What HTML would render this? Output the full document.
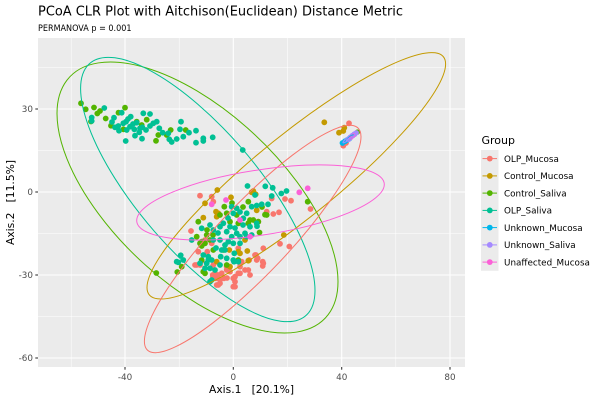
<!DOCTYPE html>
<html><head><meta charset="utf-8"><style>
html,body{margin:0;padding:0;background:#fff;}
svg{display:block;font-family:"DejaVu Sans","Liberation Sans",sans-serif;}
</style></head><body>
<svg width="600" height="400" viewBox="0 0 600 400" xmlns="http://www.w3.org/2000/svg">
<defs><clipPath id="pc"><rect x="38" y="38" width="427" height="329"/></clipPath></defs>
<rect x="0" y="0" width="600" height="400" fill="#fff"/>
<rect x="38" y="38" width="427" height="329" fill="#EBEBEB"/>
<g stroke="#fff" stroke-width="0.55">
<line x1="71.2" y1="38" x2="71.2" y2="367"/><line x1="179.2" y1="38" x2="179.2" y2="367"/><line x1="287.5" y1="38" x2="287.5" y2="367"/><line x1="395.8" y1="38" x2="395.8" y2="367"/>
<line x1="38" y1="67.5" x2="465" y2="67.5"/><line x1="38" y1="150.5" x2="465" y2="150.5"/><line x1="38" y1="233.5" x2="465" y2="233.5"/><line x1="38" y1="316.5" x2="465" y2="316.5"/>
</g>
<g stroke="#fff" stroke-width="1.1">
<line x1="125" y1="38" x2="125" y2="367"/><line x1="233.3" y1="38" x2="233.3" y2="367"/><line x1="341.7" y1="38" x2="341.7" y2="367"/><line x1="450" y1="38" x2="450" y2="367"/>
<line x1="38" y1="109" x2="465" y2="109"/><line x1="38" y1="192" x2="465" y2="192"/><line x1="38" y1="275" x2="465" y2="275"/><line x1="38" y1="358" x2="465" y2="358"/>
</g>
<g clip-path="url(#pc)">
<g fill="#F8766D">
<circle cx="200" cy="195.7" r="2.9"/><circle cx="211.7" cy="196.7" r="2.9"/><circle cx="213.3" cy="201.7" r="2.9"/><circle cx="191" cy="231" r="2.9"/><circle cx="198.3" cy="251.7" r="2.9"/><circle cx="195" cy="265" r="2.9"/><circle cx="212.7" cy="275" r="2.9"/><circle cx="216" cy="278.3" r="2.9"/><circle cx="218.3" cy="285" r="2.9"/><circle cx="224" cy="278.3" r="2.9"/><circle cx="235" cy="286.7" r="2.9"/><circle cx="235" cy="276.7" r="2.9"/><circle cx="240" cy="273.3" r="2.9"/><circle cx="245" cy="270" r="2.9"/><circle cx="248.3" cy="270" r="2.9"/><circle cx="255" cy="255" r="2.9"/><circle cx="256.7" cy="260" r="2.9"/><circle cx="263.3" cy="248.3" r="2.9"/><circle cx="263.3" cy="263.3" r="2.9"/><circle cx="262.7" cy="266" r="2.9"/><circle cx="249.3" cy="260" r="2.9"/><circle cx="241.7" cy="261.7" r="2.9"/><circle cx="226.7" cy="270" r="2.9"/><circle cx="221.7" cy="273.3" r="2.9"/><circle cx="266.7" cy="211.7" r="2.9"/><circle cx="273.3" cy="214" r="2.9"/><circle cx="279" cy="212.3" r="2.9"/><circle cx="271.7" cy="198.5" r="2.9"/><circle cx="285" cy="199" r="2.9"/><circle cx="291" cy="200.7" r="2.9"/><circle cx="310.5" cy="209" r="2.9"/><circle cx="280" cy="243.8" r="2.9"/><circle cx="289.3" cy="246.5" r="2.9"/><circle cx="238.3" cy="248.3" r="2.9"/><circle cx="211.7" cy="243.3" r="2.9"/><circle cx="207.3" cy="251.7" r="2.9"/><circle cx="216.7" cy="285" r="2.9"/><circle cx="233.3" cy="278.3" r="2.9"/><circle cx="200" cy="265" r="2.9"/><circle cx="213" cy="276.7" r="2.9"/><circle cx="220" cy="280" r="2.9"/><circle cx="196.7" cy="265" r="2.9"/><circle cx="213.3" cy="265" r="2.9"/><circle cx="215" cy="273.3" r="2.9"/><circle cx="218.3" cy="275" r="2.9"/><circle cx="220" cy="283.3" r="2.9"/><circle cx="226.7" cy="266.7" r="2.9"/><circle cx="230" cy="271.7" r="2.9"/><circle cx="238.3" cy="273.3" r="2.9"/><circle cx="240" cy="266.7" r="2.9"/><circle cx="233.3" cy="286.7" r="2.9"/><circle cx="235" cy="281.7" r="2.9"/><circle cx="250" cy="275" r="2.9"/><circle cx="256" cy="255" r="2.9"/><circle cx="262.7" cy="261.7" r="2.9"/><circle cx="257.7" cy="258.3" r="2.9"/><circle cx="258.3" cy="221.7" r="2.9"/><circle cx="201.7" cy="260.7" r="2.9"/><circle cx="205" cy="240" r="2.9"/><circle cx="227" cy="278" r="2.9"/><circle cx="349" cy="123.3" r="2.9"/><circle cx="343.3" cy="145.7" r="2.9"/><circle cx="346" cy="143" r="2.9"/>
</g>
<g fill="#C49A00">
<circle cx="217.3" cy="190" r="2.9"/><circle cx="205" cy="203.3" r="2.9"/><circle cx="216" cy="211.7" r="2.9"/><circle cx="216.7" cy="216.7" r="2.9"/><circle cx="231" cy="197.3" r="2.9"/><circle cx="251.7" cy="192.3" r="2.9"/><circle cx="255.7" cy="194.3" r="2.9"/><circle cx="203.3" cy="217.7" r="2.9"/><circle cx="256.7" cy="210.3" r="2.9"/><circle cx="283.8" cy="235" r="2.9"/><circle cx="247.3" cy="251" r="2.9"/><circle cx="238.3" cy="251.7" r="2.9"/><circle cx="245" cy="240" r="2.9"/><circle cx="230" cy="266.7" r="2.9"/><circle cx="216.7" cy="261.7" r="2.9"/><circle cx="218.3" cy="213.3" r="2.9"/><circle cx="324.3" cy="122.3" r="2.9"/><circle cx="344.3" cy="127.7" r="2.9"/><circle cx="343.3" cy="131" r="2.9"/><circle cx="339" cy="132.7" r="2.9"/><circle cx="229.3" cy="250" r="2.9"/><circle cx="240" cy="253.3" r="2.9"/><circle cx="248.3" cy="260.7" r="2.9"/><circle cx="253.3" cy="191" r="2.9"/>
</g>
<g fill="#53B400">
<circle cx="81" cy="103.3" r="2.9"/><circle cx="85.7" cy="109.3" r="2.9"/><circle cx="94" cy="107.5" r="2.9"/><circle cx="97.3" cy="113.5" r="2.9"/><circle cx="100" cy="111" r="2.9"/><circle cx="91" cy="121.5" r="2.9"/><circle cx="105.7" cy="118.5" r="2.9"/><circle cx="125" cy="107.7" r="2.9"/><circle cx="118.5" cy="112.7" r="2.9"/><circle cx="111" cy="125.7" r="2.9"/><circle cx="123.5" cy="129.3" r="2.9"/><circle cx="136.7" cy="121.7" r="2.9"/><circle cx="141.7" cy="125" r="2.9"/><circle cx="146.7" cy="119.7" r="2.9"/><circle cx="158.3" cy="135" r="2.9"/><circle cx="156" cy="140.8" r="2.9"/><circle cx="166.7" cy="135" r="2.9"/><circle cx="170.7" cy="130" r="2.9"/><circle cx="185.7" cy="130" r="2.9"/>
<circle cx="198.3" cy="221.7" r="2.9"/><circle cx="196.7" cy="236.7" r="2.9"/><circle cx="201.7" cy="241.7" r="2.9"/><circle cx="205" cy="243.3" r="2.9"/><circle cx="224.3" cy="206.7" r="2.9"/><circle cx="226.7" cy="213.3" r="2.9"/><circle cx="230" cy="221.7" r="2.9"/><circle cx="236.7" cy="215" r="2.9"/><circle cx="238.3" cy="223.3" r="2.9"/><circle cx="248.3" cy="201.7" r="2.9"/><circle cx="250" cy="220" r="2.9"/><circle cx="253.3" cy="220" r="2.9"/><circle cx="258.3" cy="221.7" r="2.9"/><circle cx="259.5" cy="232.5" r="2.9"/><circle cx="265" cy="214.7" r="2.9"/><circle cx="307.7" cy="201.7" r="2.9"/><circle cx="205" cy="273.3" r="2.9"/><circle cx="201.7" cy="260" r="2.9"/><circle cx="181.7" cy="266.7" r="2.9"/><circle cx="177.3" cy="272" r="2.9"/><circle cx="156.3" cy="273" r="2.9"/><circle cx="238.3" cy="260" r="2.9"/><circle cx="223.3" cy="250" r="2.9"/><circle cx="210" cy="240" r="2.9"/><circle cx="200" cy="243.3" r="2.9"/><circle cx="203.3" cy="241.7" r="2.9"/><circle cx="206.7" cy="235" r="2.9"/><circle cx="248.3" cy="223.3" r="2.9"/><circle cx="266.7" cy="215" r="2.9"/><circle cx="213.3" cy="250" r="2.9"/><circle cx="203.3" cy="271.7" r="2.9"/><circle cx="201.7" cy="246" r="2.9"/><circle cx="226.7" cy="265" r="2.9"/><circle cx="220" cy="215" r="2.9"/><circle cx="243" cy="207" r="2.9"/><circle cx="232" cy="203" r="2.9"/><circle cx="213" cy="235" r="2.9"/><circle cx="207" cy="230" r="2.9"/><circle cx="262" cy="207" r="2.9"/><circle cx="357.5" cy="132" r="2.6"/>
</g>
<g fill="#00C094">
<circle cx="104.3" cy="108" r="2.9"/><circle cx="91.7" cy="117.5" r="2.9"/><circle cx="114" cy="117.7" r="2.9"/><circle cx="121.7" cy="112.7" r="2.9"/><circle cx="130.7" cy="116.7" r="2.9"/><circle cx="126" cy="121.7" r="2.9"/><circle cx="115" cy="127.3" r="2.9"/><circle cx="119" cy="130.7" r="2.9"/><circle cx="126.7" cy="130" r="2.9"/><circle cx="125.7" cy="141" r="2.9"/><circle cx="134.3" cy="129.3" r="2.9"/><circle cx="135" cy="135.7" r="2.9"/><circle cx="139.3" cy="132.3" r="2.9"/><circle cx="143.3" cy="113.3" r="2.9"/><circle cx="150" cy="114" r="2.9"/><circle cx="142.3" cy="127.3" r="2.9"/><circle cx="142" cy="138.7" r="2.9"/><circle cx="150" cy="126" r="2.9"/><circle cx="153.3" cy="123.3" r="2.9"/><circle cx="156.7" cy="121.7" r="2.9"/><circle cx="159.3" cy="128.3" r="2.9"/><circle cx="162.7" cy="132.7" r="2.9"/><circle cx="169.3" cy="139.3" r="2.9"/><circle cx="171.7" cy="142" r="2.9"/><circle cx="176.7" cy="139" r="2.9"/><circle cx="181" cy="121.7" r="2.9"/><circle cx="180" cy="129.3" r="2.9"/><circle cx="183.3" cy="136.7" r="2.9"/><circle cx="189" cy="132.7" r="2.9"/><circle cx="196" cy="130.7" r="2.9"/><circle cx="196" cy="142.7" r="2.9"/><circle cx="203.3" cy="138.3" r="2.9"/><circle cx="203.3" cy="141" r="2.9"/><circle cx="212.7" cy="137.3" r="2.9"/><circle cx="242.7" cy="150" r="2.9"/><circle cx="136.7" cy="122.7" r="2.9"/><circle cx="130" cy="126.7" r="2.9"/><circle cx="123.3" cy="123.3" r="2.9"/><circle cx="118.3" cy="126" r="2.9"/><circle cx="140" cy="128.3" r="2.9"/><circle cx="168.3" cy="133.3" r="2.9"/><circle cx="91.7" cy="121" r="2.9"/><circle cx="128" cy="119" r="2.9"/><circle cx="112" cy="122" r="2.9"/><circle cx="133" cy="124" r="2.9"/><circle cx="146" cy="130" r="2.9"/>
<circle cx="247.5" cy="186" r="2.9"/><circle cx="265.3" cy="186.3" r="2.9"/><circle cx="272.7" cy="187.8" r="2.9"/><circle cx="281.3" cy="193.5" r="2.9"/><circle cx="286.5" cy="191" r="2.9"/><circle cx="271.7" cy="196" r="2.9"/><circle cx="255" cy="195" r="2.9"/><circle cx="261.7" cy="204.3" r="2.9"/><circle cx="268" cy="204.3" r="2.9"/><circle cx="256.7" cy="205.5" r="2.9"/><circle cx="251.7" cy="206.7" r="2.9"/><circle cx="246.7" cy="213.3" r="2.9"/><circle cx="243.3" cy="218.3" r="2.9"/><circle cx="250" cy="226.7" r="2.9"/><circle cx="257" cy="226.2" r="2.9"/><circle cx="231.7" cy="206.7" r="2.9"/><circle cx="236.7" cy="208.3" r="2.9"/><circle cx="233.3" cy="213.3" r="2.9"/><circle cx="223.3" cy="223.3" r="2.9"/><circle cx="220" cy="226.7" r="2.9"/><circle cx="230" cy="226.7" r="2.9"/><circle cx="226.7" cy="231.7" r="2.9"/><circle cx="213.3" cy="230" r="2.9"/><circle cx="210" cy="225" r="2.9"/><circle cx="201.7" cy="228.3" r="2.9"/><circle cx="231.7" cy="236.7" r="2.9"/><circle cx="236.7" cy="233.3" r="2.9"/><circle cx="245" cy="233.3" r="2.9"/><circle cx="228.3" cy="241.7" r="2.9"/><circle cx="233.3" cy="243.3" r="2.9"/><circle cx="225" cy="250" r="2.9"/><circle cx="220" cy="240" r="2.9"/><circle cx="213.3" cy="240" r="2.9"/><circle cx="191.7" cy="240" r="2.9"/><circle cx="240" cy="236.7" r="2.9"/><circle cx="246.7" cy="236.7" r="2.9"/><circle cx="251.7" cy="235" r="2.9"/><circle cx="200" cy="263.3" r="2.9"/><circle cx="205" cy="268.3" r="2.9"/><circle cx="211.7" cy="260" r="2.9"/><circle cx="208.3" cy="260" r="2.9"/><circle cx="210" cy="268.3" r="2.9"/><circle cx="220.7" cy="256.7" r="2.9"/><circle cx="226.7" cy="258.3" r="2.9"/><circle cx="234" cy="261.7" r="2.9"/><circle cx="176.7" cy="261.7" r="2.9"/><circle cx="180.7" cy="255.3" r="2.9"/><circle cx="211.7" cy="280" r="2.9"/><circle cx="220" cy="265" r="2.9"/><circle cx="215" cy="270" r="2.9"/><circle cx="178.3" cy="262.3" r="2.9"/><circle cx="183.3" cy="260" r="2.9"/><circle cx="203.3" cy="255" r="2.9"/><circle cx="208.3" cy="256.7" r="2.9"/><circle cx="206.7" cy="263.3" r="2.9"/><circle cx="210" cy="281.7" r="2.9"/><circle cx="221.7" cy="250" r="2.9"/><circle cx="233.3" cy="260" r="2.9"/><circle cx="234.3" cy="253.3" r="2.9"/><circle cx="238.3" cy="261.7" r="2.9"/><circle cx="256.7" cy="223.3" r="2.9"/><circle cx="240" cy="243.3" r="2.9"/><circle cx="228" cy="218" r="2.9"/><circle cx="240" cy="212" r="2.9"/><circle cx="218" cy="233" r="2.9"/><circle cx="235" cy="228" r="2.9"/><circle cx="243" cy="225" r="2.9"/><circle cx="225" cy="245" r="2.9"/><circle cx="216" cy="248" r="2.9"/>
</g>
<g fill="#00B6EB">
<circle cx="342.5" cy="143" r="2.9"/><circle cx="345" cy="141.3" r="2.9"/><circle cx="347.2" cy="140" r="2.9"/><circle cx="349.5" cy="138.5" r="2.9"/>
</g>
<g fill="#A58AFF">
<circle cx="348.5" cy="139.3" r="2.9"/><circle cx="350.5" cy="137.3" r="2.9"/><circle cx="352.5" cy="135.7" r="2.9"/><circle cx="354.5" cy="134.2" r="2.9"/><circle cx="356.3" cy="132.7" r="2.6"/>
</g>
<g fill="#FB61D7">
<circle cx="226" cy="200" r="2.9"/><circle cx="211.7" cy="204.3" r="2.9"/><circle cx="240" cy="220" r="2.9"/><circle cx="299.3" cy="192.3" r="2.9"/><circle cx="307.7" cy="188.3" r="2.9"/><circle cx="250" cy="236.7" r="2.9"/><circle cx="353.3" cy="135.3" r="2.3"/><circle cx="351" cy="137.5" r="2.2"/>
</g>
<g fill="none" stroke-width="1">
<circle cx="0" cy="0" r="1" stroke="#53B400" vector-effect="non-scaling-stroke" transform="matrix(140.5 84.0 0 106.3 197.5 197.5)"/>
<circle cx="0" cy="0" r="1" stroke="#00C094" vector-effect="non-scaling-stroke" transform="matrix(117.2 100.96 0 85.3 197.8 189.5)"/>
<circle cx="0" cy="0" r="1" stroke="#C49A00" vector-effect="non-scaling-stroke" transform="matrix(149.3 -111.7 0 52.0 296.3 175.8)"/>
<circle cx="0" cy="0" r="1" stroke="#F8766D" vector-effect="non-scaling-stroke" transform="matrix(108.3 -102.2 0 49.8 252.7 239)"/>
<circle cx="0" cy="0" r="1" stroke="#FB61D7" vector-effect="non-scaling-stroke" transform="matrix(123.8 -18.0 0 32.9 260.5 202.5)"/>
<circle cx="0" cy="0" r="1" stroke="#00B6EB" vector-effect="non-scaling-stroke" transform="matrix(6 -4.5 0 1.6 347.5 139.5)"/>
<circle cx="0" cy="0" r="1" stroke="#A58AFF" vector-effect="non-scaling-stroke" transform="matrix(7 -5.5 0 2 350 137)"/>
</g>
</g>
<g stroke="#333" stroke-width="1.07">
<line x1="35.3" y1="109" x2="38" y2="109"/><line x1="35.3" y1="192" x2="38" y2="192"/><line x1="35.3" y1="275" x2="38" y2="275"/><line x1="35.3" y1="358" x2="38" y2="358"/>
<line x1="125" y1="367" x2="125" y2="369.7"/><line x1="233.3" y1="367" x2="233.3" y2="369.7"/><line x1="341.7" y1="367" x2="341.7" y2="369.7"/><line x1="450" y1="367" x2="450" y2="369.7"/>
</g>
<g fill="#4D4D4D" font-size="8.8">
<text x="33" y="112.2" text-anchor="end">30</text>
<text x="33" y="195.2" text-anchor="end">0</text>
<text x="33" y="278.2" text-anchor="end">-30</text>
<text x="33" y="361.2" text-anchor="end">-60</text>
<text x="125" y="379.8" text-anchor="middle">-40</text>
<text x="233.3" y="379.8" text-anchor="middle">0</text>
<text x="341.7" y="379.8" text-anchor="middle">40</text>
<text x="450" y="379.8" text-anchor="middle">80</text>
</g>
<text x="251.5" y="393" font-size="11" fill="#000" text-anchor="middle" textLength="85" lengthAdjust="spacingAndGlyphs" xml:space="preserve">Axis.1   [20.1%]</text>
<text transform="translate(14,202.5) rotate(-90)" font-size="11" fill="#000" text-anchor="middle" textLength="85" lengthAdjust="spacingAndGlyphs" xml:space="preserve">Axis.2   [11.5%]</text>
<text x="38" y="15.5" font-size="13.2" fill="#000" textLength="365" lengthAdjust="spacingAndGlyphs">PCoA CLR Plot with Aitchison(Euclidean) Distance Metric</text>
<text x="38" y="30.8" font-size="8.5" fill="#000" textLength="93.5" lengthAdjust="spacingAndGlyphs">PERMANOVA p = 0.001</text>
<text x="481.5" y="144" font-size="11" fill="#000">Group</text>
<rect x="481" y="150" width="17.5" height="120.8" fill="#EBEBEB"/>
<g stroke-width="1">
<line x1="482.5" y1="158.6" x2="497" y2="158.6" stroke="#F8766D"/><circle cx="489.8" cy="158.6" r="2.9" fill="#F8766D"/>
<line x1="482.5" y1="175.9" x2="497" y2="175.9" stroke="#C49A00"/><circle cx="489.8" cy="175.9" r="2.9" fill="#C49A00"/>
<line x1="482.5" y1="193.1" x2="497" y2="193.1" stroke="#53B400"/><circle cx="489.8" cy="193.1" r="2.9" fill="#53B400"/>
<line x1="482.5" y1="210.4" x2="497" y2="210.4" stroke="#00C094"/><circle cx="489.8" cy="210.4" r="2.9" fill="#00C094"/>
<line x1="482.5" y1="227.6" x2="497" y2="227.6" stroke="#00B6EB"/><circle cx="489.8" cy="227.6" r="2.9" fill="#00B6EB"/>
<line x1="482.5" y1="244.9" x2="497" y2="244.9" stroke="#A58AFF"/><circle cx="489.8" cy="244.9" r="2.9" fill="#A58AFF"/>
<line x1="482.5" y1="262.1" x2="497" y2="262.1" stroke="#FB61D7"/><circle cx="489.8" cy="262.1" r="2.9" fill="#FB61D7"/>
</g>
<g font-size="8.8" fill="#000">
<text x="504" y="161.8">OLP_Mucosa</text>
<text x="504" y="179.1">Control_Mucosa</text>
<text x="504" y="196.3">Control_Saliva</text>
<text x="504" y="213.6">OLP_Saliva</text>
<text x="504" y="230.8">Unknown_Mucosa</text>
<text x="504" y="248.1">Unknown_Saliva</text>
<text x="504" y="265.3">Unaffected_Mucosa</text>
</g>
</svg>
</body></html>
